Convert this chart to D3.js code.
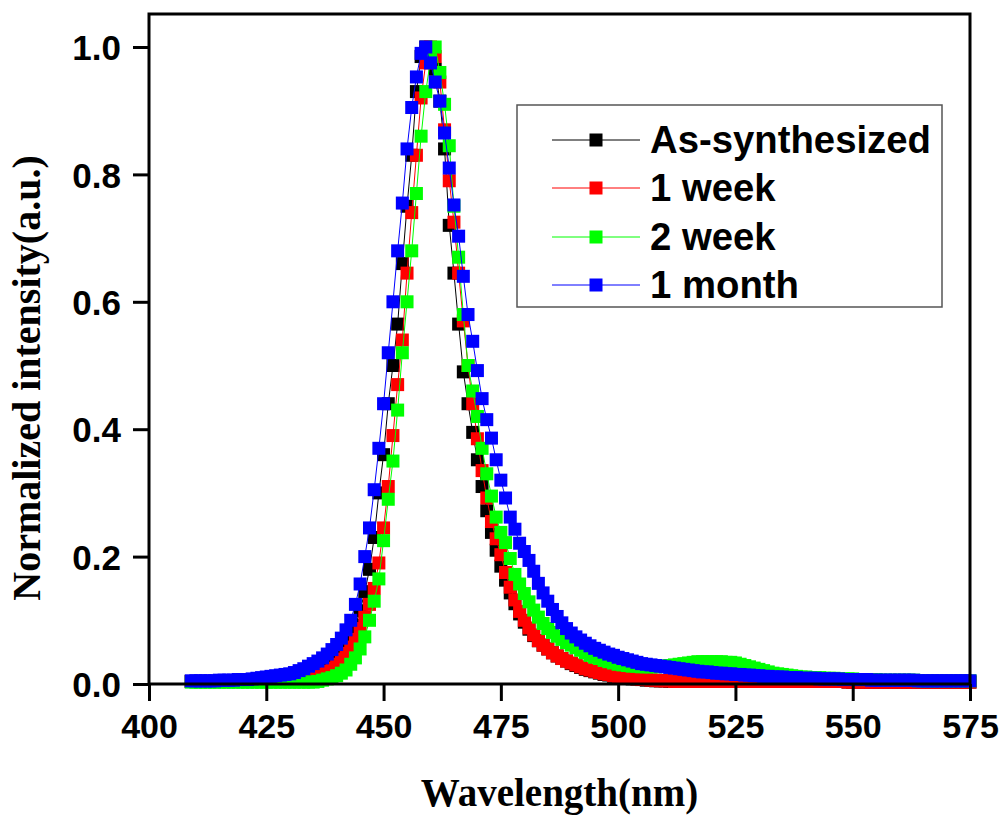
<!DOCTYPE html>
<html>
<head>
<meta charset="utf-8">
<script src="https://cdn.jsdelivr.net/npm/d3@7"></script>
<style>
  html, body { margin: 0; padding: 0; background: #fff; }
  svg { display: block; }
</style>
</head>
<body>
<svg id="chart" width="1008" height="816"></svg>
<script>
// ---- data ----
const wlStart = 409;   // first wavelength (nm), 1 nm step
const seriesNames = ["As-synthesized", "1 week", "2 week", "1 month"];
const seriesColors = ["#000000", "#ff0000", "#00ff00", "#0000ff"];
const xTicks = [400, 425, 450, 475, 500, 525, 550, 575];
const yTicks = [0.0, 0.2, 0.4, 0.6, 0.8, 1.0];

const asSynth = [
  0.004,0.004,0.004,0.004,0.004,0.004,0.004,0.004,0.004,0.004,
  0.004,0.004,0.005,0.005,0.005,0.005,0.006,0.006,0.006,0.007,
  0.007,0.008,0.008,0.009,0.009,0.010,0.012,0.015,0.019,0.024,
  0.030,0.038,0.048,0.060,0.074,0.092,0.115,0.145,0.180,0.230,
  0.300,0.360,0.440,0.500,0.565,0.660,0.750,0.830,0.930,0.985,
  1.000,0.985,0.965,0.915,0.840,0.720,0.645,0.565,0.490,0.440,
  0.395,0.352,0.310,0.272,0.238,0.210,0.185,0.163,0.143,0.126,
  0.110,0.097,0.086,0.076,0.068,0.061,0.055,0.049,0.044,0.040,
  0.036,0.032,0.029,0.026,0.023,0.021,0.019,0.017,0.015,0.014,
  0.012,0.011,0.010,0.009,0.008,0.008,0.007,0.006,0.006,0.005,
  0.005,0.005,0.004,0.004,0.004,0.004,0.004,0.004,0.004,0.004,
  0.004,0.004,0.004,0.004,0.004,0.004,0.004,0.004,0.004,0.004,
  0.004,0.004,0.004,0.004,0.004,0.004,0.004,0.004,0.004,0.004,
  0.004,0.004,0.004,0.004,0.004,0.004,0.004,0.004,0.004,0.004,
  0.003,0.003,0.003,0.003,0.003,0.003,0.003,0.003,0.003,0.003,
  0.003,0.003,0.003,0.003,0.003,0.003,0.003,0.003,0.003,0.003,
  0.003,0.003,0.003,0.003,0.003,0.003,0.003
];
const week1 = [
  0.004,0.004,0.004,0.004,0.004,0.004,0.004,0.004,0.004,0.004,
  0.004,0.004,0.004,0.005,0.005,0.005,0.005,0.005,0.006,0.006,
  0.006,0.006,0.006,0.007,0.008,0.009,0.011,0.013,0.016,0.020,
  0.025,0.031,0.039,0.048,0.058,0.070,0.087,0.105,0.125,0.150,
  0.190,0.245,0.310,0.390,0.470,0.540,0.645,0.740,0.830,0.920,
  0.975,1.000,0.985,0.945,0.870,0.790,0.725,0.645,0.570,0.500,
  0.440,0.385,0.335,0.292,0.255,0.228,0.203,0.175,0.152,0.132,
  0.114,0.100,0.088,0.077,0.068,0.061,0.055,0.049,0.044,0.040,
  0.036,0.033,0.030,0.027,0.024,0.022,0.020,0.018,0.016,0.015,
  0.013,0.012,0.011,0.010,0.009,0.008,0.007,0.007,0.006,0.006,
  0.005,0.005,0.005,0.004,0.004,0.004,0.004,0.004,0.004,0.004,
  0.004,0.004,0.004,0.004,0.004,0.004,0.004,0.004,0.004,0.004,
  0.004,0.004,0.004,0.004,0.004,0.004,0.004,0.004,0.004,0.004,
  0.004,0.004,0.004,0.004,0.004,0.004,0.004,0.004,0.004,0.004,
  0.003,0.003,0.003,0.003,0.003,0.003,0.003,0.003,0.003,0.003,
  0.003,0.003,0.003,0.003,0.003,0.003,0.003,0.003,0.003,0.003,
  0.003,0.003,0.003,0.003,0.003,0.003,0.003
];
const week2 = [
  0.003,0.003,0.003,0.003,0.003,0.003,0.003,0.003,0.003,0.003,
  0.003,0.003,0.003,0.003,0.003,0.003,0.003,0.003,0.003,0.003,
  0.003,0.003,0.003,0.003,0.003,0.003,0.003,0.004,0.006,0.008,
  0.010,0.013,0.017,0.022,0.031,0.041,0.055,0.074,0.100,0.130,
  0.165,0.225,0.290,0.350,0.430,0.520,0.600,0.680,0.770,0.860,
  0.930,0.980,1.000,0.960,0.910,0.845,0.750,0.670,0.580,0.500,
  0.460,0.420,0.370,0.330,0.295,0.262,0.238,0.222,0.197,0.172,
  0.157,0.142,0.129,0.116,0.105,0.095,0.087,0.081,0.075,0.070,
  0.065,0.061,0.057,0.053,0.049,0.045,0.042,0.040,0.037,0.035,
  0.033,0.031,0.030,0.029,0.028,0.028,0.027,0.027,0.027,0.027,
  0.028,0.028,0.029,0.030,0.031,0.032,0.033,0.034,0.035,0.035,
  0.035,0.035,0.035,0.035,0.034,0.034,0.033,0.031,0.029,0.027,
  0.025,0.023,0.021,0.019,0.017,0.016,0.015,0.014,0.013,0.012,
  0.011,0.011,0.010,0.010,0.010,0.009,0.009,0.009,0.008,0.008,
  0.008,0.008,0.007,0.007,0.007,0.007,0.007,0.006,0.006,0.006,
  0.006,0.006,0.006,0.006,0.006,0.005,0.005,0.005,0.005,0.005,
  0.005,0.005,0.005,0.005,0.005,0.005,0.005
];
const month1 = [
  0.005,0.005,0.005,0.005,0.005,0.005,0.006,0.006,0.006,0.006,
  0.007,0.007,0.007,0.008,0.009,0.010,0.011,0.012,0.013,0.014,
  0.015,0.016,0.018,0.021,0.024,0.028,0.032,0.036,0.041,0.047,
  0.054,0.062,0.072,0.085,0.100,0.125,0.157,0.200,0.245,0.305,
  0.370,0.440,0.520,0.600,0.680,0.755,0.840,0.905,0.953,0.990,
  1.000,0.975,0.945,0.915,0.865,0.810,0.752,0.703,0.640,0.580,
  0.538,0.492,0.448,0.415,0.386,0.352,0.320,0.292,0.262,0.243,
  0.221,0.208,0.194,0.177,0.158,0.143,0.130,0.117,0.106,0.096,
  0.087,0.080,0.074,0.069,0.064,0.060,0.056,0.053,0.050,0.047,
  0.045,0.042,0.040,0.038,0.036,0.034,0.032,0.031,0.030,0.029,
  0.028,0.027,0.026,0.025,0.024,0.023,0.022,0.021,0.020,0.019,
  0.019,0.018,0.017,0.017,0.016,0.016,0.015,0.015,0.014,0.014,
  0.013,0.013,0.012,0.012,0.011,0.011,0.011,0.010,0.010,0.010,
  0.009,0.009,0.009,0.009,0.008,0.008,0.008,0.008,0.008,0.007,
  0.007,0.007,0.007,0.007,0.007,0.006,0.006,0.006,0.006,0.006,
  0.006,0.006,0.006,0.006,0.006,0.005,0.005,0.005,0.005,0.005,
  0.005,0.005,0.005,0.005,0.005,0.005,0.005
];
const seriesValues = [asSynth, week1, week2, month1];

// ---- layout ----
const svg = d3.select("#chart");
const L = 149, R = 970, T = 14, B = 684;
const x = d3.scaleLinear().domain([400, 575]).range([L, R]);
const y = d3.scaleLinear().domain([0, 1.0518]).range([B, T]);

const sansBold = "'Liberation Sans', Arial, sans-serif";
const serifBold = "'Liberation Serif', 'Times New Roman', serif";

// series
const mk = 13;
const line = d3.line().x(d => x(d[0])).y(d => y(d[1]));
seriesValues.forEach((vals, si) => {
  const pts = vals.map((v, i) => [wlStart + i, v]);
  const g = svg.append("g");
  g.append("path").datum(pts)
    .attr("d", line).attr("fill", "none")
    .attr("stroke", seriesColors[si]).attr("stroke-width", 1);
  g.selectAll("rect").data(pts).enter().append("rect")
    .attr("x", d => x(d[0]) - mk / 2)
    .attr("y", d => y(d[1]) - mk / 2)
    .attr("width", mk).attr("height", mk)
    .attr("fill", seriesColors[si]);
});

// axes
const xAxis = d3.axisBottom(x).tickValues(xTicks).tickFormat(d3.format("d"))
  .tickSize(17).tickSizeOuter(0).tickPadding(13);
const gx = svg.append("g").attr("transform", `translate(0,${B})`).call(xAxis);
gx.select(".domain").remove();
gx.selectAll(".tick line").attr("stroke", "#000").attr("stroke-width", 3);
gx.selectAll(".tick text").attr("fill", "#000")
  .style("font-family", sansBold).style("font-weight", "bold").style("font-size", "34px");

const yAxis = d3.axisLeft(y).tickValues(yTicks).tickFormat(d3.format(".1f"))
  .tickSize(16).tickSizeOuter(0).tickPadding(12);
const gy = svg.append("g").attr("transform", `translate(${L},0)`).call(yAxis);
gy.select(".domain").remove();
gy.selectAll(".tick line").attr("stroke", "#000").attr("stroke-width", 3);
gy.selectAll(".tick text").attr("fill", "#000").attr("dy", "0.36em")
  .style("font-family", sansBold).style("font-weight", "bold").style("font-size", "35px");

// frame
svg.append("rect").attr("x", L).attr("y", T).attr("width", R - L).attr("height", B - T)
  .attr("fill", "none").attr("stroke", "#000").attr("stroke-width", 3);

// axis titles
svg.append("text").attr("x", (L + R) / 2).attr("y", 806)
  .attr("text-anchor", "middle")
  .style("font-family", serifBold).style("font-weight", "bold").style("font-size", "39px")
  .text("Wavelength(nm)");
svg.append("text").attr("transform", "translate(40,378) rotate(-90)")
  .attr("text-anchor", "middle")
  .style("font-family", serifBold).style("font-weight", "bold").style("font-size", "40px")
  .text("Normalized intensity(a.u.)");

// legend
const lg = svg.append("g");
lg.append("rect").attr("x", 517).attr("y", 105).attr("width", 425).attr("height", 202)
  .attr("fill", "#fff").attr("stroke", "#555").attr("stroke-width", 1.5);
const rowY = [140, 188, 237, 285];
seriesNames.forEach((name, i) => {
  const yy = rowY[i];
  lg.append("line").attr("x1", 552).attr("x2", 640).attr("y1", yy).attr("y2", yy)
    .attr("stroke", seriesColors[i]).attr("stroke-width", 1);
  lg.append("rect").attr("x", 596 - mk / 2).attr("y", yy - mk / 2)
    .attr("width", mk).attr("height", mk).attr("fill", seriesColors[i]);
  lg.append("text").attr("x", 650).attr("y", yy + 13)
    .style("font-family", sansBold).style("font-weight", "bold").style("font-size", "38.3px")
    .attr("fill", "#000").text(name);
});
</script>
</body>
</html>
